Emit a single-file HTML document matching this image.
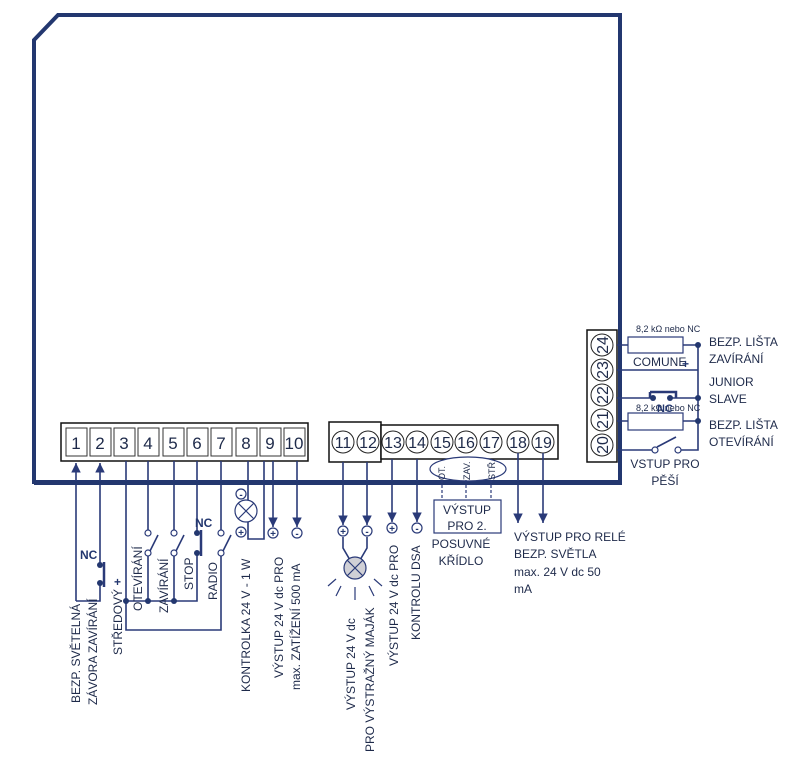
<!DOCTYPE html>
<html><head><meta charset="utf-8"><style>
html,body{margin:0;padding:0;background:#fff}
svg{display:block}
text{font-family:"Liberation Sans",sans-serif;fill:#1e2a4a}
</style></head><body>
<svg width="800" height="763" viewBox="0 0 800 763" xmlns="http://www.w3.org/2000/svg">
<defs>
<marker id="a" viewBox="0 0 10 10" refX="10" refY="5" markerWidth="6" markerHeight="6" orient="auto"><path d="M0,0 L10,5 L0,10 z" fill="#2a3a78"/></marker>
</defs>
<g fill="none" stroke="#23376f">
<path d="M34,482 L34,40 L58,15 L620,15 L620,482 Z" stroke-width="4"/>
</g>
<g stroke="#111" fill="#fff" stroke-width="1.5">
<rect x="61" y="423" width="247" height="38"/>
<rect x="329" y="422" width="52" height="40"/>
<rect x="381" y="425" width="177" height="34"/>
<rect x="587" y="330" width="30" height="132"/>
</g>
<g stroke="#333" fill="#fff" stroke-width="1">
<rect x="66" y="428" width="21" height="28"/><rect x="90" y="428" width="21" height="28"/>
<rect x="114" y="428" width="21" height="28"/><rect x="138" y="428" width="21" height="28"/>
<rect x="163" y="428" width="21" height="28"/><rect x="187" y="428" width="21" height="28"/>
<rect x="211" y="428" width="21" height="28"/><rect x="236" y="428" width="21" height="28"/>
<rect x="260" y="428" width="21" height="28"/><rect x="284" y="428" width="21" height="28"/>
</g>
<g font-size="17" text-anchor="middle">
<text x="76" y="449">1</text><text x="100" y="449">2</text><text x="124" y="449">3</text><text x="148" y="449">4</text><text x="173" y="449">5</text><text x="197" y="449">6</text><text x="221" y="449">7</text><text x="246" y="449">8</text><text x="270" y="449">9</text><text x="294" y="449">10</text>
</g>
<g stroke="#222" fill="#fff" stroke-width="1">
<circle cx="343" cy="442" r="11"/><circle cx="368" cy="442" r="11"/>
<circle cx="393" cy="442" r="11"/><circle cx="417" cy="442" r="11"/><circle cx="442" cy="442" r="11"/><circle cx="466" cy="442" r="11"/><circle cx="491" cy="442" r="11"/><circle cx="518" cy="442" r="11"/><circle cx="543" cy="442" r="11"/>
<circle cx="602" cy="345" r="11"/><circle cx="602" cy="370" r="11"/><circle cx="602" cy="395" r="11"/><circle cx="602" cy="420" r="11"/><circle cx="602" cy="445" r="11"/>
</g>
<g font-size="16" text-anchor="middle">
<text x="343" y="448">11</text><text x="368" y="448">12</text><text x="393" y="448">13</text><text x="417" y="448">14</text><text x="442" y="448">15</text><text x="466" y="448">16</text><text x="491" y="448">17</text><text x="518" y="448">18</text><text x="543" y="448">19</text>
<text transform="translate(608,345) rotate(-90)">24</text><text transform="translate(608,370) rotate(-90)">23</text><text transform="translate(608,395) rotate(-90)">22</text><text transform="translate(608,420) rotate(-90)">21</text><text transform="translate(608,445) rotate(-90)">20</text>
</g>
<g fill="none" stroke="#2a3a78" stroke-width="1.6">
<path d="M76,601 L76,463" marker-end="url(#a)"/>
<path d="M76,601 L100,601 L100,583"/>
<path d="M100,565 L100,463" marker-end="url(#a)"/>
<path d="M104,562 L104,587" stroke-width="2.5"/>
<path d="M126,461 L126,630 L221,630 L221,553"/>
<path d="M126,601 L197,601 L197,553"/>
<path d="M148,461 L148,533 M148,553 L148,601 M150,551 L158,535"/>
<path d="M174,461 L174,533 M174,553 L174,601 M176,551 L184,535"/>
<path d="M197,461 L197,533"/>
<path d="M201,530 L201,556" stroke-width="2.5"/>
<path d="M221,461 L221,533 M223,551 L231,535"/>
<path d="M248,461 L248,500 M264,461 L264,539 L248,539 L248,522"/>
<path d="M273,461 L273,527" marker-end="url(#a)"/>
<path d="M297,461 L297,527" marker-end="url(#a)"/>
<path d="M343,462 L343,525" marker-end="url(#a)"/>
<path d="M367,462 L367,525" marker-end="url(#a)"/>
<path d="M392,459 L392,522" marker-end="url(#a)"/>
<path d="M417,459 L417,522" marker-end="url(#a)"/>
<path d="M518,453 L518,523" marker-end="url(#a)"/>
<path d="M543,453 L543,523" marker-end="url(#a)"/>
<path d="M343,537 L343,548 L350,560 M367,537 L367,548 L360,560"/>
<path d="M617,345 L628,345 M683,345 L698,345 L698,450 L680,450 M617,370 L698,370 M617,398 L653,398 M670,398 L698,398 M617,421 L628,421 M683,421 L698,421 M617,450 L653,450"/>
<path d="M650,392 L676,392 L676,398 M650,392 L650,398" stroke-width="2.5"/>
<path d="M657,447 L676,437"/>
</g>
<path d="M34,483 L620,483 L620,463" fill="none" stroke="#23376f" stroke-width="4"/>
<g fill="#23376f">
<circle cx="100" cy="565" r="3"/><circle cx="100" cy="583" r="3"/>
<circle cx="126" cy="601" r="3"/><circle cx="148" cy="601" r="3"/><circle cx="174" cy="601" r="3"/>
<circle cx="197" cy="533" r="3"/><circle cx="197" cy="553" r="3"/>
<circle cx="698" cy="345" r="3"/><circle cx="698" cy="398" r="3"/><circle cx="698" cy="421" r="3"/><circle cx="653" cy="398" r="3"/><circle cx="670" cy="398" r="3"/>
</g>
<g fill="#fff" stroke="#2a3a78" stroke-width="1.2">
<circle cx="148" cy="533" r="3"/><circle cx="148" cy="553" r="3"/>
<circle cx="174" cy="533" r="3"/><circle cx="174" cy="553" r="3"/>
<circle cx="221" cy="533" r="3"/><circle cx="221" cy="553" r="3"/>
<circle cx="655" cy="450" r="3"/><circle cx="678" cy="450" r="3"/>
<rect x="628" y="337" width="55" height="16"/><rect x="628" y="413" width="55" height="17"/>
<rect x="434" y="500" width="67" height="33"/>
<ellipse cx="468" cy="469" rx="38" ry="12"/>
<circle cx="246" cy="511" r="11"/>
<path d="M238,503 L254,519 M254,503 L238,519" fill="none"/>
<circle cx="241" cy="494" r="5"/><circle cx="241" cy="532" r="5"/>
<circle cx="273" cy="533" r="5"/><circle cx="297" cy="533" r="5"/>
<circle cx="343" cy="531" r="5"/><circle cx="367" cy="531" r="5"/>
<circle cx="392" cy="528" r="5"/><circle cx="417" cy="528" r="5"/>
<circle cx="355" cy="568" r="11" fill="#d0d0d6"/>
<path d="M347,560 L363,576 M363,560 L347,576 M336,579 L328,586 M341,586 L336,596 M355,587 L355,600 M369,586 L374,596 M374,579 L382,586" fill="none"/>
<path d="M442,480 L442,500 M466,480 L466,500 M491,480 L491,500" stroke-dasharray="3,2" fill="none"/>
</g>
<g font-size="10" text-anchor="middle" font-weight="bold">
<text x="241" y="498" style="fill:#23376f">-</text><text x="241" y="536" style="fill:#23376f">+</text><text x="273" y="537" style="fill:#23376f">+</text><text x="297" y="537" style="fill:#23376f">-</text>
<text x="343" y="535" style="fill:#23376f">+</text><text x="367" y="535" style="fill:#23376f">-</text><text x="392" y="532" style="fill:#23376f">+</text><text x="417" y="532" style="fill:#23376f">-</text>
</g>
<g font-size="12" font-weight="bold">
<text x="80" y="559" style="fill:#23376f">NC</text><text x="195" y="527" style="fill:#23376f">NC</text><text x="114" y="586" style="fill:#23376f">+</text>
</g>
<g font-size="12">
<text transform="translate(80,703) rotate(-90)">BEZP. SVĚTELNÁ</text>
<text transform="translate(97,705) rotate(-90)">ZÁVORA ZAVÍRÁNÍ</text>
<text transform="translate(122,655) rotate(-90)">STŘEDOVÝ</text>
<text transform="translate(142,611) rotate(-90)">OTEVÍRÁNÍ</text>
<text transform="translate(168,613) rotate(-90)">ZAVÍRÁNÍ</text>
<text transform="translate(193,590) rotate(-90)">STOP</text>
<text transform="translate(217,600) rotate(-90)">RADIO</text>
<text transform="translate(250,692) rotate(-90)">KONTROLKA 24 V - 1 W</text>
<text transform="translate(283,678) rotate(-90)">VÝSTUP 24 V dc PRO</text>
<text transform="translate(300,690) rotate(-90)">max. ZATÍŽENÍ 500 mA</text>
<text transform="translate(355,710) rotate(-90)">VÝSTUP 24 V dc</text>
<text transform="translate(374,752) rotate(-90)">PRO VÝSTRAŽNÝ MAJÁK</text>
<text transform="translate(398,666) rotate(-90)">VÝSTUP 24 V dc PRO</text>
<text transform="translate(420,640) rotate(-90)">KONTROLU DSA</text>
</g>
<g font-size="9">
<text transform="translate(445,480) rotate(-90)">OT.</text>
<text transform="translate(470,480) rotate(-90)">ZAV.</text>
<text transform="translate(495,480) rotate(-90)">STŘ.</text>
</g>
<g font-size="12" text-anchor="middle">
<text x="467" y="514">VÝSTUP</text><text x="467" y="530">PRO 2.</text>
<text x="461" y="548">POSUVNÉ</text><text x="461" y="565">KŘÍDLO</text>
<text x="665" y="468">VSTUP PRO</text><text x="665" y="485">PĚŠÍ</text>
</g>
<g font-size="12">
<text x="514" y="541">VÝSTUP PRO RELÉ</text><text x="514" y="558">BEZP. SVĚTLA</text><text x="514" y="576">max. 24 V dc 50</text><text x="514" y="593">mA</text>
<text x="709" y="346">BEZP. LIŠTA</text><text x="709" y="363">ZAVÍRÁNÍ</text>
<text x="709" y="386">JUNIOR</text><text x="709" y="403">SLAVE</text>
<text x="709" y="429">BEZP. LIŠTA</text><text x="709" y="446">OTEVÍRÁNÍ</text>
<text x="633" y="366">COMUNE</text>
</g>
<g font-size="9">
<text x="636" y="332">8,2 kΩ nebo NC</text>
<text x="636" y="411">8,2 kΩ nebo NC</text>
</g>
<text x="682" y="368" font-size="12" font-weight="bold" style="fill:#23376f">+</text>
<text x="657" y="412" font-size="11" font-weight="bold" style="fill:#23376f">NC</text>
</svg>
</body></html>
